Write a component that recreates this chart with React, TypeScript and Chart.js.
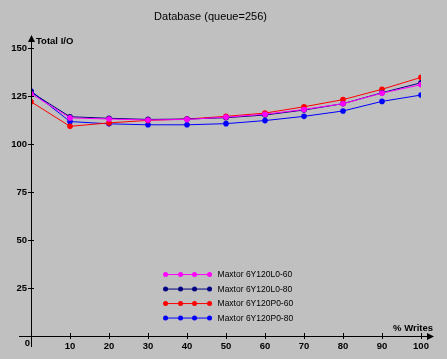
import React, { useEffect, useRef } from "react";
import { Chart, registerables } from "chart.js";

Chart.register(...registerables);

const TITLE = "Database (queue=256)";
const Y_TITLE = "Total I/O";
const X_TITLE = "% Writes";
const writes = [0, 10, 20, 30, 40, 50, 60, 70, 80, 90, 100];
const seriesNames = ["Maxtor 6Y120L0-60", "Maxtor 6Y120L0-80", "Maxtor 6Y120P0-60", "Maxtor 6Y120P0-80"];
const seriesColors = ["#ff00ff", "#000080", "#ff0000", "#0000ff"];
const l060 = [126.2, 113.6, 113.0, 112.5, 112.8, 114.0, 115.5, 118.0, 121.0, 126.5, 130.9];
const l080 = [127.0, 114.2, 113.4, 112.8, 113.0, 113.7, 115.1, 117.7, 121.0, 126.7, 131.9];
const p060 = [122.0, 109.2, 111.0, 112.3, 113.0, 114.4, 116.1, 119.4, 123.1, 128.5, 134.7];
const p080 = [127.6, 111.7, 110.5, 110.0, 110.0, 110.6, 112.2, 114.4, 117.2, 122.2, 125.5];
const seriesValues = [l060, l080, p060, p080];

const FONT = "'Liberation Sans', Arial, sans-serif";

const decor = {
  id: "decor",
  beforeDraw(chart: any) {
    const ctx = chart.ctx;
    ctx.save();
    ctx.fillStyle = "#c0c0c0";
    ctx.fillRect(0, 0, chart.width, chart.height);
    ctx.restore();
  },
  afterDraw(chart: any) {
    const ctx = chart.ctx;
    const xs = chart.scales.x;
    const ys = chart.scales.y;
    const x0 = xs.getPixelForValue(0);
    const y0 = ys.getPixelForValue(0);
    const yTop = ys.getPixelForValue(150);
    const xRight = xs.getPixelForValue(100);
    ctx.save();
    ctx.strokeStyle = "#000";
    ctx.fillStyle = "#000";
    ctx.lineWidth = 1;
    // y axis
    ctx.beginPath();
    ctx.moveTo(Math.round(x0) + 0.5, y0 + 11);
    ctx.lineTo(Math.round(x0) + 0.5, yTop - 8);
    ctx.stroke();
    ctx.beginPath();
    ctx.moveTo(Math.round(x0) + 0.5, yTop - 13);
    ctx.lineTo(Math.round(x0) - 3, yTop - 6);
    ctx.lineTo(Math.round(x0) + 4, yTop - 6);
    ctx.closePath();
    ctx.fill();
    // x axis
    ctx.beginPath();
    ctx.moveTo(x0 - 12, Math.round(y0) + 0.5);
    ctx.lineTo(xRight + 8, Math.round(y0) + 0.5);
    ctx.stroke();
    ctx.beginPath();
    ctx.moveTo(xRight + 13, Math.round(y0) + 0.5);
    ctx.lineTo(xRight + 6, Math.round(y0) - 3);
    ctx.lineTo(xRight + 6, Math.round(y0) + 4);
    ctx.closePath();
    ctx.fill();
    // tick marks
    ys.ticks.forEach((t: any) => {
      if (t.value === 0) return;
      const py = Math.round(ys.getPixelForValue(t.value)) + 0.5;
      ctx.beginPath();
      ctx.moveTo(x0 - 3, py);
      ctx.lineTo(x0 + 3, py);
      ctx.stroke();
    });
    xs.ticks.forEach((t: any) => {
      if (t.value === 0) return;
      const px = Math.round(xs.getPixelForValue(t.value)) + 0.5;
      ctx.beginPath();
      ctx.moveTo(px, y0 - 3);
      ctx.lineTo(px, y0 + 3);
      ctx.stroke();
    });
    // origin label
    ctx.font = "bold 9.5px " + FONT;
    ctx.textBaseline = "middle";
    ctx.textAlign = "right";
    ctx.fillText("0", x0 - 1, y0 + 7);
    // axis titles
    ctx.textAlign = "left";
    ctx.fillText(Y_TITLE, x0 + 5, yTop - 7);
    ctx.textAlign = "right";
    ctx.fillText(X_TITLE, xRight + 12, y0 - 8);
    // legend
    const lx = xs.getPixelForValue(34.5);
    chart.data.datasets.forEach((ds: any, i: number) => {
      const ly = ys.getPixelForValue(32) + i * 14.5;
      ctx.strokeStyle = ds.borderColor;
      ctx.fillStyle = ds.borderColor;
      ctx.beginPath();
      ctx.moveTo(lx, ly);
      ctx.lineTo(lx + 44, ly);
      ctx.stroke();
      [0, 15, 29, 44].forEach((dx) => {
        ctx.beginPath();
        ctx.arc(lx + dx, ly, 2.5, 0, Math.PI * 2);
        ctx.fill();
      });
      ctx.fillStyle = "#000";
      ctx.font = "8.5px " + FONT;
      ctx.textAlign = "left";
      ctx.fillText(ds.label, lx + 52, ly + 0.5);
    });
    ctx.restore();
  },
};

export default function App() {
  const ref = useRef<HTMLCanvasElement>(null);
  useEffect(() => {
    if (!ref.current) return;
    const chart = new Chart(ref.current, {
      type: "line",
      data: {
        datasets: seriesNames.map((name, i) => ({
          label: name,
          data: writes.map((w, j) => ({ x: w, y: seriesValues[i][j] })),
          borderColor: seriesColors[i],
          backgroundColor: seriesColors[i],
          borderWidth: 1,
          pointRadius: 2.8,
          pointBorderWidth: 0,
          tension: 0,
        })),
      },
      options: {
        responsive: false,
        animation: false,
        layout: { padding: { top: 0, right: 26, left: 0, bottom: 0 } },
        plugins: {
          legend: { display: false },
          tooltip: { enabled: false },
          title: {
            display: true,
            text: TITLE,
            color: "#000",
            font: { family: FONT, size: 11, weight: "normal" },
            padding: { top: 10, bottom: 24.8 },
          },
        },
        scales: {
          x: {
            type: "linear",
            min: 0,
            max: 100,
            afterFit: (s: any) => { s.height = 23; },
            grid: { display: false, drawTicks: false },
            border: { display: false },
            ticks: {
              stepSize: 10,
              padding: 5,
              color: "#000",
              maxRotation: 0,
              font: { family: FONT, size: 9.5, weight: "bold" },
              callback: (v: any) => (v === 0 ? "" : String(v)),
            },
          },
          y: {
            min: 0,
            max: 150,
            afterFit: (s: any) => { s.width = 31; },
            grid: { display: false, drawTicks: false },
            border: { display: false },
            ticks: {
              stepSize: 25,
              padding: 4,
              color: "#000",
              font: { family: FONT, size: 9.5, weight: "bold" },
              callback: (v: any) => (v === 0 ? "" : String(v)),
            },
          },
        },
      },
      plugins: [decor],
    });
    return () => chart.destroy();
  }, []);
  return (
    <div style={{ position: "absolute", left: 0, top: 0, width: 447, height: 359 }}>
      <canvas ref={ref} width={447} height={359} style={{ display: "block" }} />
    </div>
  );
}
